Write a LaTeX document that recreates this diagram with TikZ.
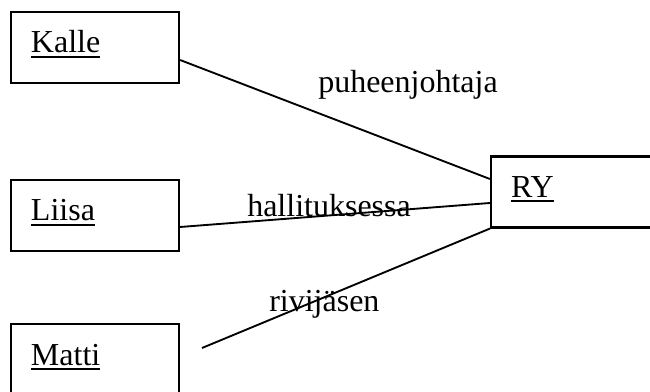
\documentclass[tikz,border=0pt]{standalone}
\usepackage{fontspec}
\setmainfont{Liberation Serif}
\usepackage{tikz}

\newcommand{\unline}[1]{\setbox0\hbox{#1}\rlap{\vrule width\wd0 height -1.9pt depth 3.6pt}\box0}

\begin{document}
\begin{tikzpicture}[x=0.75pt, y=-0.75pt,
    every node/.style={font=\fontsize{24}{28}\selectfont},
    entity/.style={draw, line width=1.6pt, inner xsep=15pt, inner ysep=0pt,
      text width=96pt, text height=30.75pt, text depth=22.5pt, align=left},
    rolename/.style={inner sep=0pt, anchor=base west},
    edge/.style={line width=1.4pt}]
    \clip (0,0) rectangle (650,392);
    % Nodes
    \node[entity] (kalle) at (95,47.5) {\unline{Kalle}};
    \node[entity] (liisa) at (95,215.5) {\unline{Liisa}};
    \node[entity] (matti) at (95,359.5) {\unline{Matti}};
    \node[entity] (ry) at (575,192) {\unline{RY}};
    \coordinate (mattiend) at (202,348);

    % Edges
    \draw[edge] ([shift={(0,12.5)}]kalle.east) -- ([shift={(0,-13)}]ry.west);
    \draw[edge] ([shift={(0,11.5)}]liisa.east) -- ([shift={(0,11)}]ry.west);
    \draw[edge] (mattiend) -- (ry.south west);

    % Roles
    \node[rolename] (pj) at (318,93) {puheenjohtaja};
    \node[rolename] (ha) at (247,217) {hallituksessa};
    \node[rolename] (rj) at (269,311) {rivijäsen};
\end{tikzpicture}
\end{document}
